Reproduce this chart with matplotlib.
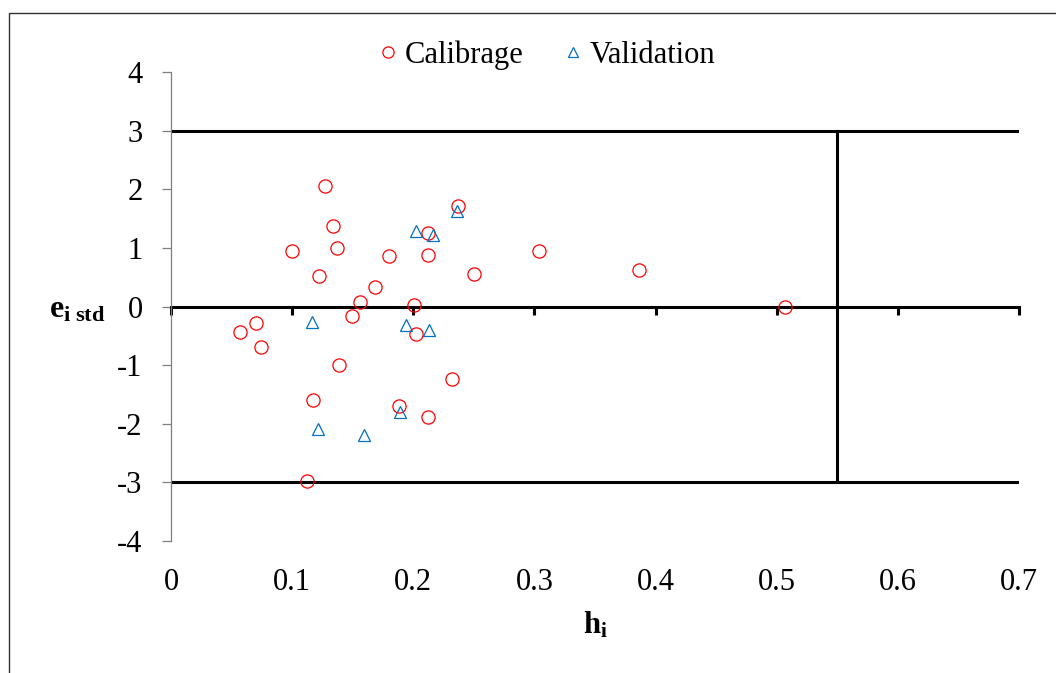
import matplotlib
matplotlib.use("Agg")
import matplotlib.pyplot as plt
from matplotlib.patches import Rectangle

WIDTH_PX = 1056
HEIGHT_PX = 673
DPI = 100

# Leverage h_i and standardized residuals, calibration set
cal_h = [0.127, 0.134, 0.100, 0.137, 0.122, 0.168, 0.156, 0.149, 0.180,
         0.212, 0.212, 0.237, 0.250, 0.304, 0.386, 0.507, 0.201, 0.202,
         0.057, 0.070, 0.074, 0.139, 0.232, 0.117, 0.188, 0.212, 0.112]
cal_e = [2.05, 1.37, 0.94, 0.99, 0.52, 0.34, 0.08, -0.16, 0.86,
         1.25, 0.88, 1.72, 0.56, 0.94, 0.63, -0.01, 0.03, -0.47,
         -0.44, -0.28, -0.69, -0.99, -1.24, -1.60, -1.69, -1.89, -2.97]

# Validation set
val_h = [0.202, 0.216, 0.236, 0.116, 0.194, 0.213, 0.121, 0.159, 0.189]
val_e = [1.28, 1.22, 1.63, -0.26, -0.32, -0.40, -2.09, -2.20, -1.80]

# Warning leverage and residual limits
h_star = 0.55
e_limit = 3

x_ticks = [0, 0.1, 0.2, 0.3, 0.4, 0.5, 0.6, 0.7]
y_ticks = [-4, -3, -2, -1, 0, 1, 2, 3, 4]

plt.rcParams["font.family"] = ["Liberation Serif", "DejaVu Serif"]
plt.rcParams["axes.unicode_minus"] = False
plt.rcParams["mathtext.fontset"] = "custom"
plt.rcParams["mathtext.rm"] = "Liberation Serif"
plt.rcParams["mathtext.it"] = "Liberation Serif:italic"
plt.rcParams["mathtext.bf"] = "Liberation Serif:bold"

FS = 22


def px(x, y):
    # pixel position (from top-left) to figure fraction
    return x / WIDTH_PX, 1 - y / HEIGHT_PX


fig = plt.figure(figsize=(WIDTH_PX / DPI, HEIGHT_PX / DPI), dpi=DPI)
fig.patch.set_facecolor("white")

# chart frame, only the left and top edges fall inside the image
x0, y0 = px(9, 13)
fig.patches.append(Rectangle((x0, -0.1), 1.2, y0 + 0.1, transform=fig.transFigure,
                             fill=False, edgecolor="#303030", linewidth=1.0,
                             clip_on=False))

left, top = px(171, 72)
right, bottom = px(1019, 541)
ax = fig.add_axes([left, bottom, right - left, top - bottom])

ax.set_xlim(0, 0.7)
ax.set_ylim(-4, 4)

for side in ("top", "right"):
    ax.spines[side].set_visible(False)
ax.spines["left"].set_color("#7f7f7f")
ax.spines["left"].set_linewidth(0.9)
ax.spines["bottom"].set_position(("data", 0))
ax.spines["bottom"].set_linewidth(2.2)
ax.spines["bottom"].set_color("black")
ax.spines["bottom"].set_zorder(2)

ax.set_yticks(y_ticks)
ax.set_yticklabels([str(v) for v in y_ticks])
ax.tick_params(axis="y", direction="out", length=6.5, width=0.9,
               color="#7f7f7f", labelsize=FS, pad=14)

ax.set_xticks(x_ticks)
ax.tick_params(axis="x", direction="out", length=5.8, width=2.2,
               color="black", labelbottom=False)
for v in x_ticks:
    ax.annotate(f"{v:g}", xy=(v, -4), xytext=(0, -35),
                textcoords="offset points", ha="center", va="baseline",
                fontsize=FS, annotation_clip=False)

# applicability domain limits
ax.axhline(e_limit, color="black", linewidth=2.2, zorder=2)
ax.axhline(-e_limit, color="black", linewidth=2.2, zorder=2)
ax.plot([h_star, h_star], [-e_limit, e_limit], color="black",
        linewidth=2.2, zorder=2)

ax.plot(cal_h, cal_e, linestyle="none", marker="o", markersize=9.5,
        markerfacecolor="none", markeredgecolor="#ff0000",
        markeredgewidth=0.9, label="Calibrage", zorder=3)
ax.plot(val_h, val_e, linestyle="none", marker="^", markersize=9,
        markerfacecolor="none", markeredgecolor="#0070c0",
        markeredgewidth=0.9, label="Validation", zorder=4)

lx, ly = px(547, 55)
fig.legend(loc="center", bbox_to_anchor=(lx, ly), ncol=2, frameon=False,
           fontsize=FS, markerscale=0.85, handlelength=0.6,
           handletextpad=0.25, columnspacing=1.3)

hx, hy = px(595, 634)
fig.text(hx, hy, r"$\mathbf{h}_{\mathbf{i}}$", fontsize=FS, ha="center",
         va="baseline")
ex, ey = px(105, 317)
fig.text(ex, ey, r"$\mathbf{e}_{\mathbf{i\ std}}$", fontsize=FS + 1,
         ha="right", va="baseline")

fig.savefig("out.png", dpi=DPI)
plt.close(fig)
